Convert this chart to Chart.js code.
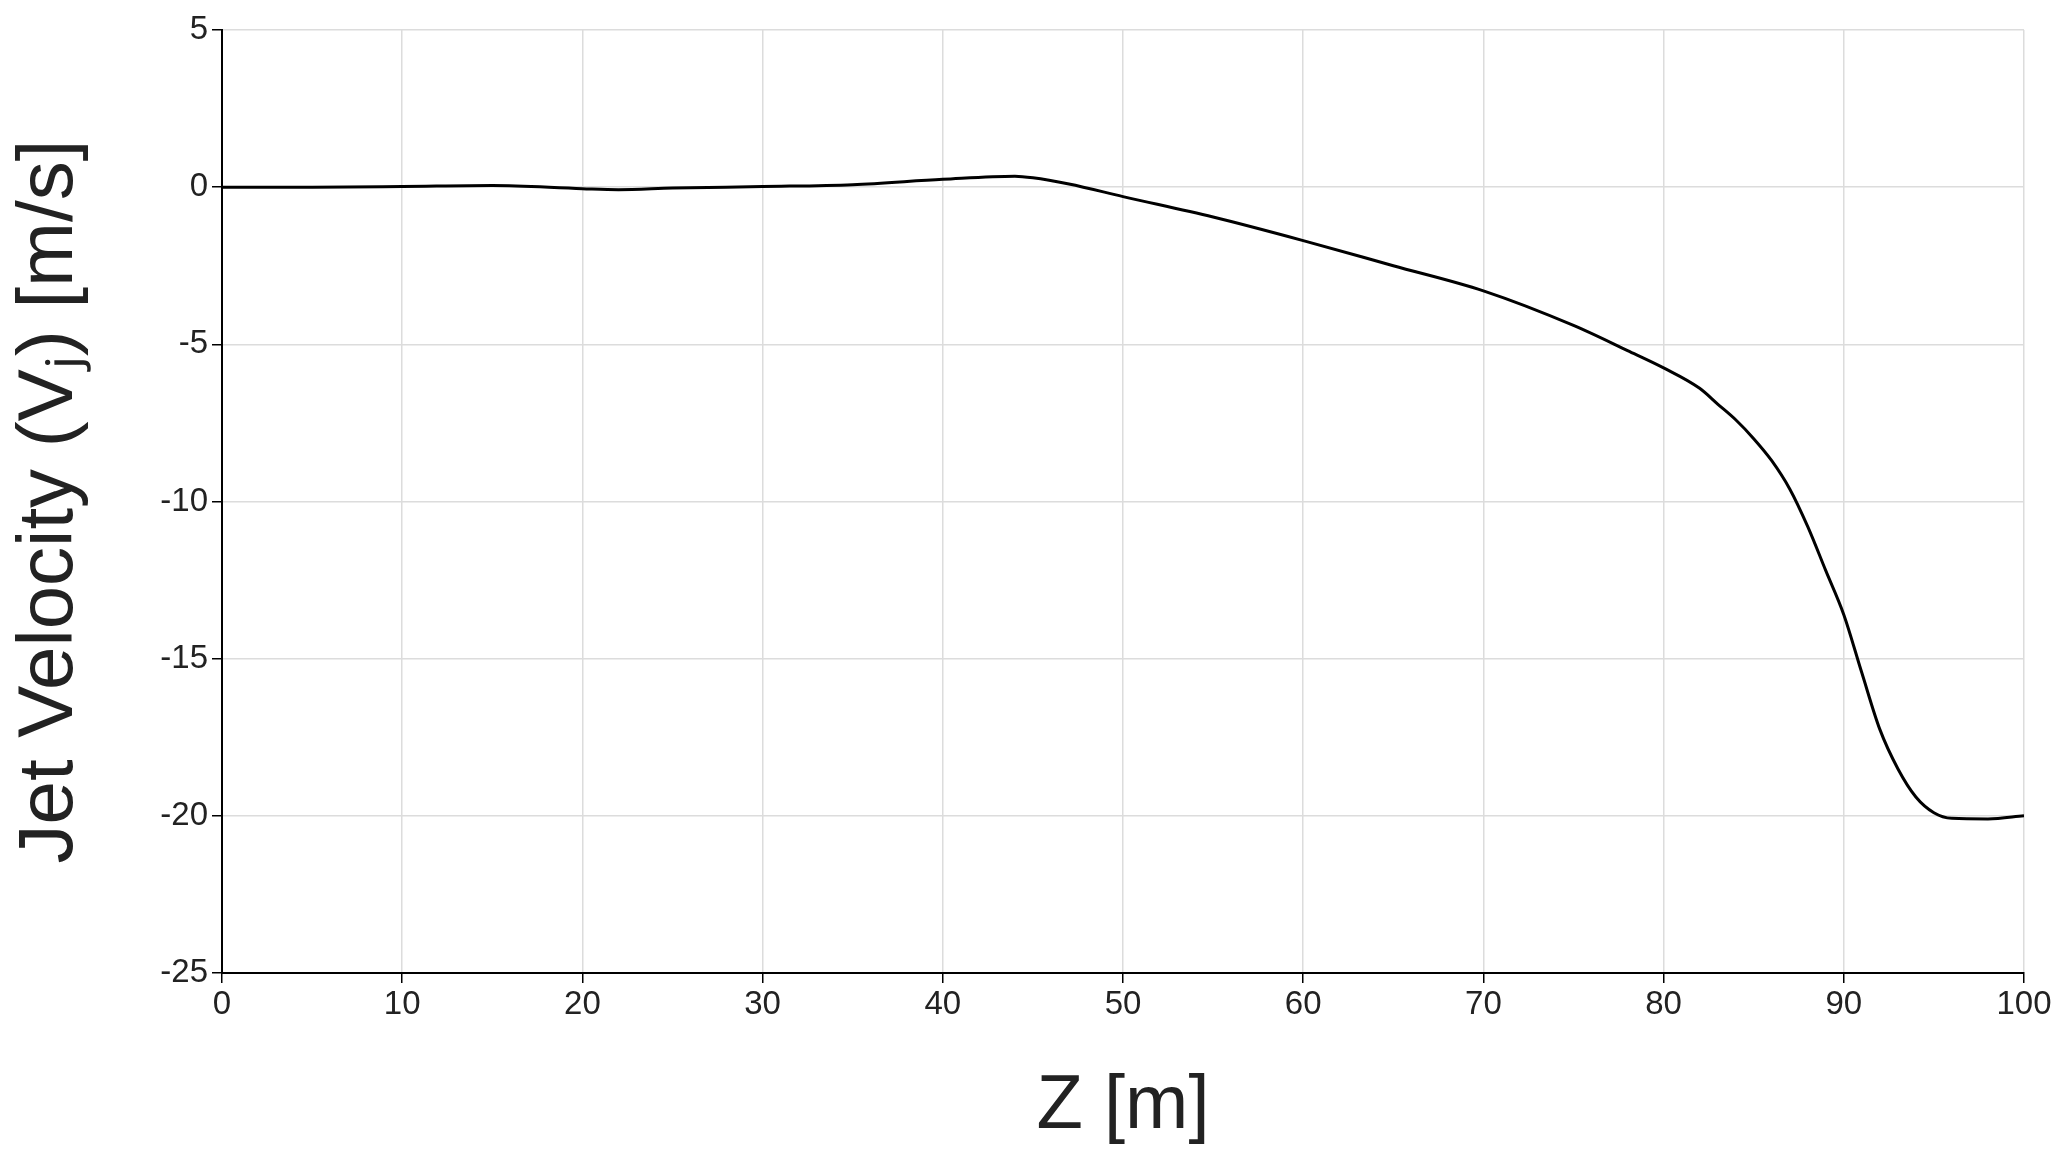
<!DOCTYPE html>
<html><head><meta charset="utf-8">
<script src="https://cdn.jsdelivr.net/npm/chart.js@4"></script>
<style>html,body{margin:0;padding:0;background:#fff}#w{width:2070px;height:1157px}</style>
</head><body><div id="w"><canvas id="c"></canvas></div>
<script>
const zValues=[0,5,10,15,20,22,25,30,35,40,44,45,47,50,55,60,65,70,75,78,80,82,83,84,85,86,87,88,89,90,91,92,93,94,95,96,98,100];
const vjValues=[0,0,0.02,0.05,-0.05,-0.08,-0.03,0.02,0.08,0.25,0.35,0.3,0.1,-0.3,-0.95,-1.7,-2.5,-3.3,-4.4,-5.2,-5.75,-6.4,-6.9,-7.4,-8.0,-8.7,-9.6,-10.8,-12.2,-13.6,-15.45,-17.25,-18.5,-19.4,-19.9,-20.08,-20.1,-20.0];
const xTicks=[0,10,20,30,40,50,60,70,80,90,100];
const yTicks=[5,0,-5,-10,-15,-20,-25];
const tickFont={family:"'Liberation Sans Narrow','Arial Narrow','Liberation Sans',sans-serif",size:33};
new Chart(document.getElementById('c'),{
type:'line',
data:{datasets:[{data:zValues.map((z,i)=>({x:z,y:vjValues[i]})),borderColor:'#000',borderWidth:3,pointRadius:0,cubicInterpolationMode:'monotone'}]},
options:{responsive:true,maintainAspectRatio:false,animation:false,
layout:{padding:{top:30,right:46,left:0,bottom:0}},
plugins:{legend:{display:false},tooltip:{enabled:false}},
scales:{
x:{type:'linear',min:0,max:100,afterBuildTicks:a=>{a.ticks=xTicks.map(v=>({value:v}))},
 afterFit:a=>{a.height=184},
 grid:{color:'#dcdcdc',lineWidth:1.5,tickLength:10,tickColor:'#000'},border:{color:'#000',width:2},
 ticks:{color:'#222',font:tickFont,maxRotation:0,padding:2},
 title:{display:true,text:'Z [m]',color:'#222',font:{family:"'Liberation Sans',sans-serif",size:76},padding:{top:0}}},
y:{min:-25,max:5,afterBuildTicks:a=>{a.ticks=yTicks.map(v=>({value:v}))},
 afterFit:a=>{a.width=222},
 grid:{color:'#dcdcdc',lineWidth:1.5,tickLength:10,tickColor:'#000'},border:{color:'#000',width:2},
 ticks:{color:'#222',font:tickFont,padding:4},
 title:{display:true,text:'Jet Velocity (Vⱼ) [m/s]',color:'#222',font:{family:"'Liberation Sans',sans-serif",size:78},padding:{bottom:24}}}
}}});
</script></body></html>
